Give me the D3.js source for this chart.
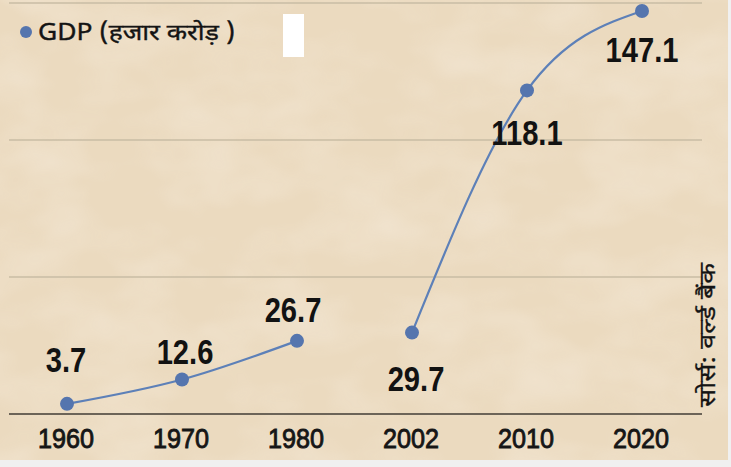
<!DOCTYPE html>
<html>
<head>
<meta charset="utf-8">
<script src="https://cdn.jsdelivr.net/npm/d3@7"></script>
<style>
  html, body { margin: 0; padding: 0; background: #f0f0f0; }
  svg { display: block; }
</style>
</head>
<body>
<div id="chart"></div>
<script>
// Data
const years = ["1960", "1970", "1980", "2002", "2010", "2020"];
const gdp = [3.7, 12.6, 26.7, 29.7, 118.1, 147.1];
const valueLabels = ["3.7", "12.6", "26.7", "29.7", "118.1", "147.1"];
const gridValues = [0, 50, 100, 150];
// the line is broken between 1980 and 2002
const segments = [[0, 1, 2], [3, 4, 5]];
const legendText = "GDP (हजार करोड़  )";
const sourceText = "सोर्स: वर्ल्ड बैंक";

// label offsets from their point (dx, dy of baseline)
const labelOffsets = [[-1, -32], [3, -15], [-4, -19], [4, 58], [0, 55], [0, 51]];

const W = 731, H = 467;
const svg = d3.select("#chart").append("svg")
  .attr("width", W).attr("height", H);

// paper texture
const defs = svg.append("defs");
const f = defs.append("filter").attr("id", "paper")
  .attr("x", 0).attr("y", 0).attr("width", "100%").attr("height", "100%");
f.append("feTurbulence").attr("type", "fractalNoise")
  .attr("baseFrequency", "0.012 0.02").attr("numOctaves", 3).attr("seed", 7).attr("result", "n");
f.append("feColorMatrix").attr("type", "matrix")
  .attr("values", "0 0 0 0 1  0 0 0 0 0.96  0 0 0 0 0.92  0 0 0 0.9 -0.32")
  .attr("in", "n");

svg.append("rect").attr("width", 728).attr("height", 460).attr("fill", "#ebdabf");
svg.append("rect").attr("width", 728).attr("height", 460)
  .attr("filter", "url(#paper)").attr("opacity", 0.5);

// scales
const x = d3.scalePoint().domain(years).range([67, 642]);
const y = d3.scaleLinear().domain([0, 150]).range([414, 3]);

// grid lines
svg.append("g").selectAll("line")
  .data(gridValues)
  .join("line")
  .attr("x1", 9).attr("x2", 702)
  .attr("y1", d => y(d)).attr("y2", d => y(d))
  .attr("stroke", d => d === 0 ? "#6c6458" : "#c9bca4")
  .attr("stroke-width", d => d === 0 ? 2 : 1.6);

// x axis labels (condensed)
svg.append("g").selectAll("text")
  .data(years)
  .join("text")
  .attr("transform", d => `translate(${x(d) - 1},448) scale(0.9,1)`)
  .attr("text-anchor", "middle")
  .attr("font-family", "'Liberation Sans', sans-serif")
  .attr("font-size", 28)
  .attr("fill", "#161616")
  .attr("stroke", "#161616")
  .attr("stroke-width", 0.9)
  .text(d => d);

// line segments
const line = d3.line()
  .x(i => x(years[i]))
  .y(i => y(gdp[i]))
  .curve(d3.curveMonotoneX);

svg.append("g").selectAll("path")
  .data(segments)
  .join("path")
  .attr("d", line)
  .attr("fill", "none")
  .attr("stroke", "#5d80b8")
  .attr("stroke-width", 2.2);

// points
svg.append("g").selectAll("circle")
  .data(gdp)
  .join("circle")
  .attr("cx", (d, i) => x(years[i]))
  .attr("cy", d => y(d))
  .attr("r", 7)
  .attr("fill", "#5575ae");

// value labels (condensed bold)
svg.append("g").selectAll("text")
  .data(gdp)
  .join("text")
  .attr("transform", (d, i) =>
    `translate(${x(years[i]) + labelOffsets[i][0]},${y(d) + labelOffsets[i][1]}) scale(0.81,1)`)
  .attr("text-anchor", "middle")
  .attr("font-family", "'Liberation Sans', sans-serif")
  .attr("font-weight", "bold")
  .attr("font-size", 36)
  .attr("fill", "#121212")
  .text((d, i) => valueLabels[i]);

// legend
svg.append("circle").attr("cx", 26).attr("cy", 32).attr("r", 6).attr("fill", "#5575ae");
svg.append("text")
  .attr("x", 38).attr("y", 40)
  .attr("font-family", "'Noto Sans Devanagari', 'Noto Sans', sans-serif")
  .attr("font-size", 23)
  .attr("fill", "#141414")
  .attr("stroke", "#141414")
  .attr("stroke-width", 0.4)
  .attr("textLength", 197)
  .attr("lengthAdjust", "spacingAndGlyphs")
  .text(legendText);
svg.append("rect").attr("x", 283).attr("y", 14).attr("width", 21).attr("height", 43).attr("fill", "#ffffff");

// source, rotated
svg.append("text")
  .attr("transform", "translate(715,407) rotate(-90)")
  .attr("font-family", "'Noto Sans Devanagari', 'Noto Sans', sans-serif")
  .attr("font-size", 22)
  .attr("fill", "#141414")
  .attr("stroke", "#141414")
  .attr("stroke-width", 0.3)
  .attr("textLength", 144)
  .attr("lengthAdjust", "spacingAndGlyphs")
  .text(sourceText);
</script>
</body>
</html>
